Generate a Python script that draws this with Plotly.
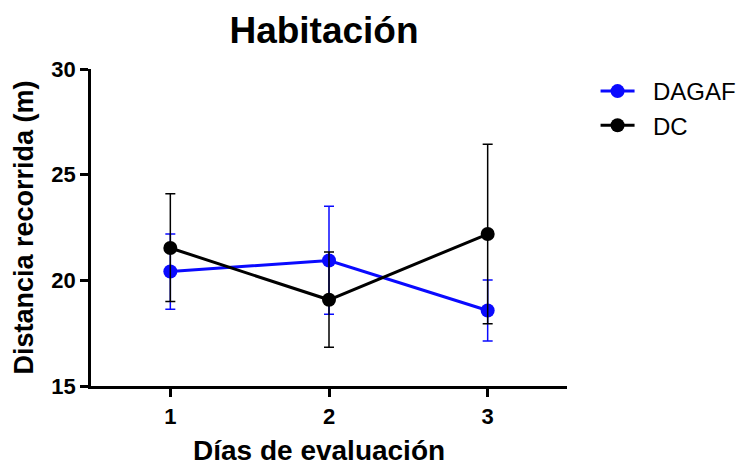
import plotly.graph_objects as go

days = [1, 2, 3]
tick_labels = ["1", "2", "3"]

dagaf_mean = [20.42, 20.94, 18.57]
dagaf_err_plus = [1.77, 2.56, 1.45]
dagaf_err_minus = [1.79, 2.54, 1.44]

dc_mean = [21.53, 19.08, 22.19]
dc_err_plus = [2.57, 2.26, 4.25]
dc_err_minus = [2.53, 2.25, 4.25]

FONT = "Liberation Sans, Arial, sans-serif"
BLUE = "#0a0aff"
BLACK = "#000000"
PAD = "\u00a0\u00a0"

fig = go.Figure()
fig.add_trace(go.Scatter(
    x=days, y=dagaf_mean, name=PAD + "DAGAF", mode="lines+markers",
    line=dict(color=BLUE, width=3),
    marker=dict(color=BLUE, size=14),
    error_y=dict(type="data", array=dagaf_err_plus, arrayminus=dagaf_err_minus,
                 symmetric=False, color=BLUE, thickness=1.5, width=5),
))
fig.add_trace(go.Scatter(
    x=days, y=dc_mean, name=PAD + "DC", mode="lines+markers",
    line=dict(color=BLACK, width=3),
    marker=dict(color=BLACK, size=14),
    error_y=dict(type="data", array=dc_err_plus, arrayminus=dc_err_minus,
                 symmetric=False, color=BLACK, thickness=1.5, width=5),
))

fig.update_layout(
    width=741, height=465,
    margin=dict(l=91, r=174, t=69, b=79, autoexpand=False),
    paper_bgcolor="white", plot_bgcolor="white",
    font=dict(family=FONT, color="black"),
    title=dict(text="Habitación", x=324 / 741, xanchor="center",
               y=1 - 30 / 465, yanchor="middle", yref="container",
               font=dict(size=37, weight="bold", family=FONT, color="black")),
    legend=dict(x=1.06, y=1.0, xanchor="left", yanchor="top",
                font=dict(size=24, family=FONT, color="black"),
                bgcolor="rgba(0,0,0,0)", itemwidth=34),
    xaxis=dict(
        range=[0.5, 3.5], tickmode="array", tickvals=days, ticktext=tick_labels,
        showgrid=False, zeroline=False, showline=True, linecolor="black", linewidth=2.5,
        ticks="outside", ticklen=8, tickwidth=2.5, tickcolor="black", automargin=False,
        ticklabelstandoff=1,
        tickfont=dict(size=22, weight="bold", family=FONT, color="black"),
    ),
    yaxis=dict(
        range=[15, 30], tickvals=[15, 20, 25, 30],
        showgrid=False, zeroline=False, showline=True, linecolor="black", linewidth=2.5,
        ticks="outside", ticklen=8, tickwidth=2.5, tickcolor="black", automargin=False,
        tickfont=dict(size=22, weight="bold", family=FONT, color="black"),
        title=dict(text="Distancia recorrida (m)", standoff=10,
                   font=dict(size=27, weight="bold", family=FONT, color="black")),
    ),
    annotations=[dict(
        text="Días de evaluación", xref="paper", yref="paper",
        x=(319 - 91) / 476, y=(386 - 450) / 317, xanchor="center", yanchor="middle",
        showarrow=False, font=dict(size=28, weight="bold", family=FONT, color="black"),
    )],
)

fig.write_html("out.html")
